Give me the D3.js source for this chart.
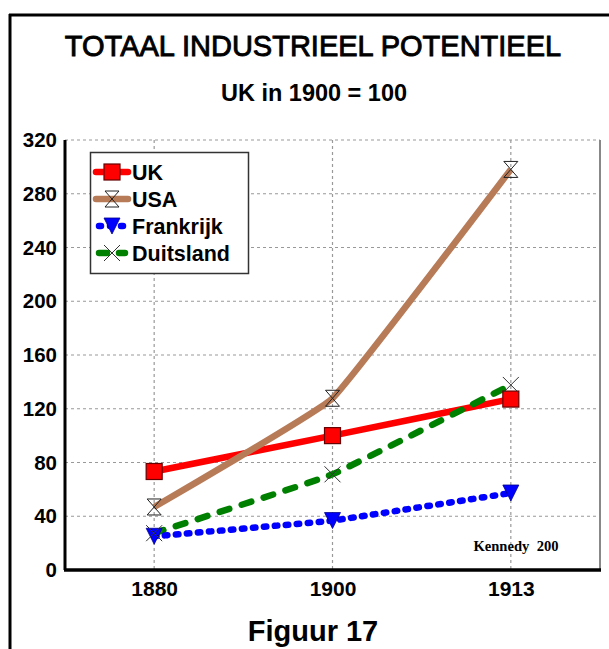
<!DOCTYPE html>
<html><head><meta charset="utf-8">
<script src="https://cdn.jsdelivr.net/npm/d3@7"></script>
<style>body{margin:0;background:#fff}svg{display:block}</style>
</head><body><svg id="c" width="609" height="649"></svg>
<script>
const years = ["1880", "1900", "1913"];
const yTicks = [0, 40, 80, 120, 160, 200, 240, 280, 320];
const seriesNames = ["UK", "USA", "Frankrijk", "Duitsland"];
const ukValues = [73.3, 100, 127.2];
const usaValues = [46.9, 127.8, 298.1];
const frankrijkValues = [25.1, 36.8, 57.3];
const duitslandValues = [27.4, 71.2, 137.7];
const titleText = "TOTAAL INDUSTRIEEL POTENTIEEL";
const subtitleText = "UK in 1900 = 100";
const figText = "Figuur 17";
const sourceText = "Kennedy  200";

const series = [
  {name: seriesNames[0], values: ukValues, color: "#ff0000", dash: null, marker: "square"},
  {name: seriesNames[1], values: usaValues, color: "#b77b58", dash: null, marker: "hourglass"},
  {name: seriesNames[2], values: frankrijkValues, color: "#0000ff", dash: "2.5 8.5", marker: "tri"},
  {name: seriesNames[3], values: duitslandValues, color: "#008000", dash: "10 13", marker: "x"}
];

const svg = d3.select("#c");
const L = 65, R = 600, T = 140, B = 570;
const x = d3.scalePoint().domain(years).range([L, R]).padding(0.5);
const y = d3.scaleLinear().domain([0, 320]).range([B, T]);
const font = "Arial, 'Liberation Sans', sans-serif";

// outer frame
svg.append("line").attr("x1", 10).attr("x2", 10).attr("y1", 14).attr("y2", 649).attr("stroke", "#000").attr("stroke-width", 3);
svg.append("line").attr("x1", 9).attr("x2", 609).attr("y1", 15).attr("y2", 15).attr("stroke", "#000").attr("stroke-width", 3);

// titles
svg.append("text").attr("x", 313).attr("y", 56).attr("text-anchor", "middle")
  .attr("font-family", font).attr("font-size", 29).attr("font-weight", "normal")
  .attr("stroke", "#000").attr("stroke-width", 0.9).text(titleText);
svg.append("text").attr("x", 314).attr("y", 101).attr("text-anchor", "middle")
  .attr("font-family", font).attr("font-size", 23.5).attr("font-weight", "bold").text(subtitleText);
svg.append("text").attr("x", 313).attr("y", 641).attr("text-anchor", "middle")
  .attr("font-family", font).attr("font-size", 29).attr("font-weight", "bold").text(figText);

// grid
const g = svg.append("g");
g.selectAll(".hg").data(yTicks.filter(d => d > 0)).join("line")
  .attr("x1", L).attr("x2", R).attr("y1", d => y(d)).attr("y2", d => y(d))
  .attr("stroke", "#999").attr("stroke-width", 1.2).attr("stroke-dasharray", "3 3");
g.selectAll(".vg").data(years).join("line")
  .attr("x1", d => x(d)).attr("x2", d => x(d)).attr("y1", T).attr("y2", B)
  .attr("stroke", "#999").attr("stroke-width", 1.2).attr("stroke-dasharray", "3 3");
g.append("line").attr("x1", R).attr("x2", R).attr("y1", T).attr("y2", B).attr("stroke", "#888").attr("stroke-width", 2);

// axes
const yAxis = svg.append("g").attr("transform", `translate(${L},0)`)
  .call(d3.axisLeft(y).tickValues(yTicks).tickSize(0).tickPadding(8));
yAxis.select(".domain").attr("stroke", "#000").attr("stroke-width", 3).attr("d", `M0,${T}V${B}`);
yAxis.selectAll("text").attr("font-family", font).attr("font-size", 20.5).attr("font-weight", "bold").attr("fill", "#000");

const xAxis = svg.append("g").attr("transform", `translate(0,${B})`)
  .call(d3.axisBottom(x).tickSize(0).tickPadding(11));
xAxis.select(".domain").attr("stroke", "#000").attr("stroke-width", 3.5).attr("d", `M${L - 1},0H${R + 1}`);
xAxis.selectAll("text").attr("font-family", font).attr("font-size", 21).attr("font-weight", "bold").attr("fill", "#000");

// source
svg.append("text").attr("x", 516).attr("y", 551).attr("text-anchor", "middle")
  .attr("font-family", "'Liberation Serif', 'Times New Roman', serif").attr("font-size", 14.6)
  .attr("font-weight", "bold").attr("xml:space", "preserve").style("white-space", "pre").text(sourceText);

// lines
const line = d3.line().x((d, i) => x(years[i])).y(d => y(d)).curve(d3.curveCardinal.tension(0.75));
const order = [0, 1, 3, 2];
order.forEach(k => {
  const s = series[k];
  svg.append("path").attr("d", line(s.values)).attr("fill", "none")
    .attr("stroke", s.color).attr("stroke-width", 6.5)
    .attr("stroke-linecap", s.dash ? "round" : "butt").attr("stroke-linejoin", "round")
    .attr("stroke-dasharray", s.dash);
});

function drawMarker(sel, type, cx, cy) {
  if (type === "square") {
    sel.append("rect").attr("x", cx - 8).attr("y", cy - 8).attr("width", 16).attr("height", 16)
      .attr("fill", "#ff0000").attr("stroke", "#600").attr("stroke-width", 1.2);
  } else if (type === "hourglass") {
    sel.append("path").attr("d", `M${cx - 7},${cy - 8}H${cx + 7}L${cx - 7},${cy + 8}H${cx + 7}Z`)
      .attr("fill", "none").attr("stroke", "#222").attr("stroke-width", 1);
  } else if (type === "tri") {
    sel.append("path").attr("d", `M${cx - 8},${cy - 8}H${cx + 8}L${cx},${cy + 8}Z`)
      .attr("fill", "#0000ff").attr("stroke", "#00008b").attr("stroke-width", 0.8);
  } else if (type === "x") {
    sel.append("path").attr("d", `M${cx - 8},${cy - 8}L${cx + 8},${cy + 8}M${cx + 8},${cy - 8}L${cx - 8},${cy + 8}`)
      .attr("fill", "none").attr("stroke", "#333").attr("stroke-width", 1);
  }
}
const mk = svg.append("g");
series.forEach(s => s.values.forEach((v, i) => drawMarker(mk, s.marker, x(years[i]), y(v))));

// legend
const lg = svg.append("g");
lg.append("rect").attr("x", 90.5).attr("y", 152.5).attr("width", 158).attr("height", 121)
  .attr("fill", "#fff").attr("stroke", "#333").attr("stroke-width", 1.5);
const rowY = [172, 199, 226, 253];
series.forEach((s, i) => {
  const yy = rowY[i];
  lg.append("line").attr("x1", s.dash ? 99 : 96).attr("x2", s.dash ? 125 : 128).attr("y1", yy).attr("y2", yy)
    .attr("stroke", s.color).attr("stroke-width", 6.5)
    .attr("stroke-linecap", "round").attr("stroke-dasharray", s.dash ? (s.marker === "tri" ? "2 9" : "8 12") : null);
  drawMarker(lg, s.marker, 112, yy);
  lg.append("text").attr("x", 132).attr("y", yy + 7.5).attr("font-family", font)
    .attr("font-size", 21.5).attr("font-weight", "bold").text(s.name);
});
</script></body></html>
